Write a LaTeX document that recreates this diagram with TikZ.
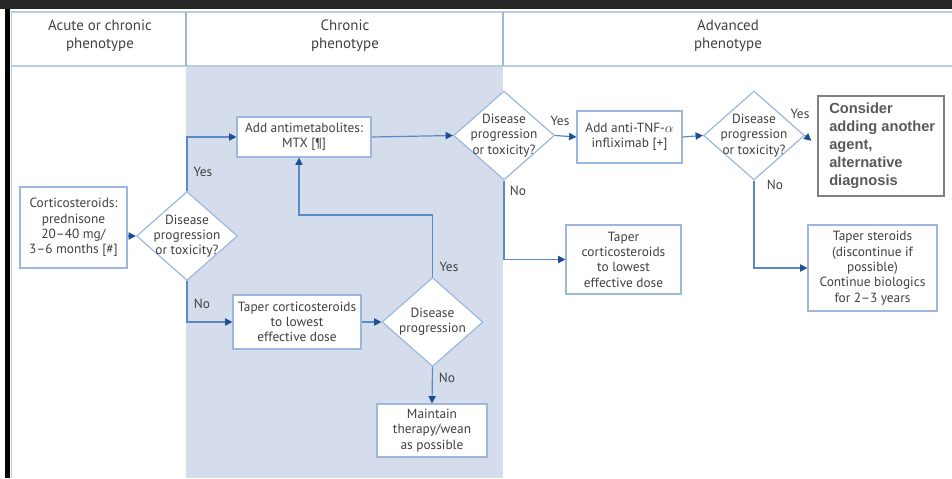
\documentclass[tikz,border=0pt]{standalone}
\usepackage{fontspec}
\setmainfont{PT Sans}
\newfontfamily\arialfont{Liberation Sans}
\usetikzlibrary{arrows.meta,shapes.geometric}
\definecolor{lineblue}{HTML}{5A8AC6}
\definecolor{tipblue}{HTML}{1D4F93}
\definecolor{boxblue}{HTML}{9DB8DC}
\definecolor{headblue}{HTML}{B9CDE6}
\definecolor{chronicfill}{HTML}{D5DDEC}
\definecolor{txt}{HTML}{404040}
\begin{document}
\begin{tikzpicture}[x=0.75pt,y=-0.75pt,
  font=\fontsize{10}{11.5}\selectfont, text=txt,
  box/.style={draw=boxblue, line width=0.9pt, fill=white, align=center, inner sep=0pt},
  decision/.style={diamond, draw=boxblue, line width=0.9pt, fill=white, inner sep=0pt,
    minimum width=75.75pt, minimum height=66.75pt},
  link/.style={draw=lineblue, line width=0.9pt,
    -{Triangle[length=5.5pt,width=5.5pt,color=tipblue]}},
  answer/.style={inner sep=0pt}]
\useasboundingbox (0,0) rectangle (952,478);

% frame and columns
\fill[black!85] (0,0) rectangle (952,9);
\fill[black] (5,9) rectangle (10,478);
\fill[chronicfill] (186,66) rectangle (503,478);
\draw[headblue, line width=1.5pt] (11,12) -- (952,12);
\draw[headblue, line width=1.5pt] (11,66) -- (952,66);
\draw[headblue, line width=1pt] (11.5,12) -- (11.5,478);
\draw[boxblue, line width=0.9pt] (186,12) -- (186,66);
\draw[boxblue, line width=0.9pt] (503,12) -- (503,66);

% column titles
\node[align=center, font=\fontsize{11.2}{13.5}\selectfont] (acute) at (100,36) {Acute or chronic\\phenotype};
\node[align=center, font=\fontsize{11.2}{13.5}\selectfont] (chronic) at (345,36) {Chronic\\phenotype};
\node[align=center, font=\fontsize{11.2}{13.5}\selectfont] (advanced) at (728,36) {Advanced\\phenotype};

% boxes
\node[box, minimum width=80.25pt, minimum height=60.75pt] (cort) at (73.5,227.5)
  {Corticosteroids:\\prednisone\\20--40 mg/\\3--6 months [\#]};
\node[box, minimum width=100.5pt, minimum height=30pt] (antimet) at (304,137)
  {Add antimetabolites:\\MTX [\P]};
\node[box, minimum width=96pt, minimum height=40.5pt] (taperA) at (297,322)
  {Taper corticosteroids\\to lowest\\effective dose};
\node[box, minimum width=82.5pt, minimum height=39.75pt] (maintain) at (432,430.5)
  {Maintain\\therapy/wean\\as possible};
\node[box, minimum width=78.75pt, minimum height=39pt] (tnf) at (629.5,137)
  {Add anti-TNF-$\alpha$\\infliximab [+]};
\node[box, minimum width=86.25pt, minimum height=51.75pt] (taperB) at (623.5,259.5)
  {Taper\\corticosteroids\\to lowest\\effective dose};
\node[box, minimum width=96.75pt, minimum height=64.5pt] (taperC) at (872.5,268)
  {Taper steroids\\(discontinue if\\possible)\\Continue biologics\\for 2--3 years};
\node[draw=black!50, line width=0.9pt, fill=white, minimum width=94.5pt, minimum height=75pt,
  inner sep=0pt] (consider) at (881,146) {};
\node[anchor=north west, align=left, inner sep=0pt,
  font=\arialfont\bfseries\fontsize{11}{13.5}\selectfont, text=black!65]
  (considertext) at (829,103) {Consider\\adding another\\agent,\\alternative\\diagnosis};

% decisions
\node[decision, label={[align=center]center:Disease\\progression\\or toxicity?}] (dA) at (187,236) {};
\node[decision, label={[align=center]center:Disease\\progression\\or toxicity?}] (dB) at (504,135.5) {};
\node[decision, label={[align=center]center:Disease\\progression\\or toxicity?}] (dC) at (754,135.5) {};
\node[decision, label={[align=center]center:Disease\\progression}] (dD) at (432.5,322) {};

% connectors
\draw[link] (cort.east |- dA.west) -- (dA.west);
\draw[link] (dA.north) |- (antimet.west);
\draw[link] (dA.south) |- (taperA.west);
\draw[link] (antimet.east) -- (dB.west);
\draw[link] (taperA.east) -- (dD.west);
\draw[link] (dD.north) -- ++(0,-62) -| ([xshift=-3.75pt]antimet.south);
\draw[link] (dD.south) -- (maintain.north);
\draw[link] (dB.east) -- (tnf.west);
\draw[link] (dB.south) |- (taperB.west);
\draw[link] (tnf.east) -- (dC.west);
\draw[link, shorten >=6pt] (dC.east) -- (consider.west);
\draw[link] (dC.south) |- (taperC.west);

% yes / no
\node[answer] (yesA) at (203,172) {Yes};
\node[answer] (noA) at (202,304) {No};
\node[answer] (yesD) at (449,267) {Yes};
\node[answer] (noD) at (447,378) {No};
\node[answer] (yesB) at (560,121) {Yes};
\node[answer] (noB) at (518,191) {No};
\node[answer] (yesC) at (800,114) {Yes};
\node[answer] (noC) at (775,185) {No};

\end{tikzpicture}
\end{document}
